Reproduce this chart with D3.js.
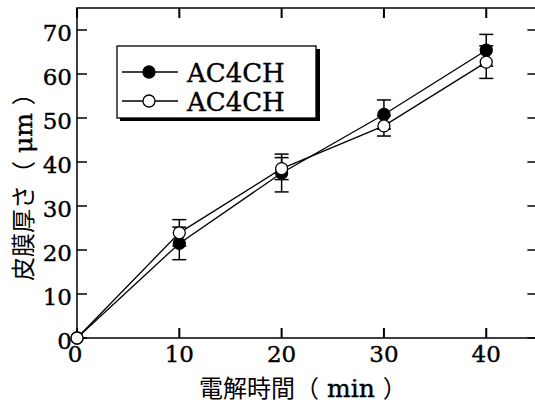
<!DOCTYPE html>
<html><head><meta charset="utf-8">
<script src="https://cdn.jsdelivr.net/npm/d3@7"></script>
<style>body{margin:0;background:#fff}svg{display:block}</style>
</head><body>
<script>
const times = [0, 10, 20, 30, 40];
const filledValues = [0, 21.5, 37.5, 50.8, 65.4];
const filledErr = [0, 3.7, 4.3, 3.3, 3.6];
const openValues = [0, 23.9, 38.5, 48.2, 62.7];
const openErr = [0, 3.0, 2.5, 2.3, 3.7];
const xTicks = [0, 10, 20, 30, 40];
const yTicks = [0, 10, 20, 30, 40, 50, 60, 70];
const legendLabels = ["AC4CH", "AC4CH"];
const xTitleParts = ["電解時間（", " min ", "）"];
const yTitleParts = ["皮膜厚さ（", " μm ", "）"];

const W = 535, H = 404;
const svg = d3.select("body").append("svg").attr("width", W).attr("height", H);
const x = d3.scaleLinear().domain([0, 45]).range([77, 537.4]);
const y = d3.scaleLinear().domain([0, 75]).range([338, 8]);
const serif = "'DejaVu Serif', serif";
const cjk = "'Noto Sans CJK JP', sans-serif";

// frame
svg.append("rect").attr("x", x(0)).attr("y", y(75)).attr("width", x(45) - x(0)).attr("height", y(0) - y(75))
  .attr("fill", "none").attr("stroke", "#000").attr("stroke-width", 1.5);

// ticks (inward) on all four sides
const tg = svg.append("g").attr("stroke", "#000").attr("stroke-width", 2);
xTicks.forEach(t => {
  tg.append("line").attr("x1", x(t)).attr("x2", x(t)).attr("y1", y(0)).attr("y2", y(0) - 10);
  tg.append("line").attr("x1", x(t)).attr("x2", x(t)).attr("y1", y(75)).attr("y2", y(75) + 10);
});
yTicks.forEach(t => {
  tg.append("line").attr("x1", x(0)).attr("x2", x(0) + 10).attr("y1", y(t)).attr("y2", y(t)).attr("stroke-width", 1.5);
  tg.append("line").attr("x1", x(45)).attr("x2", x(45) - 10).attr("y1", y(t)).attr("y2", y(t)).attr("stroke-width", 1.5);
});

// tick labels
const thicken = s => s.attr("stroke", "#000").attr("stroke-width", 0.4);
svg.append("g").selectAll("text").data(yTicks).join("text")
  .attr("x", x(0) - 5).attr("y", d => y(d) + 11).attr("text-anchor", "end")
  .attr("font-family", serif).attr("font-size", 23).call(thicken).text(d => d);
svg.append("g").selectAll("text").data(xTicks).join("text")
  .attr("x", d => x(d) - (d === 0 ? 2 : 0)).attr("y", 362).attr("text-anchor", "middle")
  .attr("font-family", serif).attr("font-size", 23).call(thicken).text(d => d);

// axis titles
function title(sel, parts) {
  sel.append("tspan").attr("font-family", cjk).attr("font-size", 24).text(parts[0]);
  sel.append("tspan").attr("font-family", serif).attr("font-size", 25).call(thicken).attr("xml:space", "preserve").text(parts[1]);
  sel.append("tspan").attr("font-family", cjk).attr("font-size", 24).text(parts[2]);
}
const xt = svg.append("text").attr("x", 199).attr("y", 397).attr("xml:space", "preserve");
title(xt, xTitleParts);
const yt = svg.append("text").attr("transform", "translate(32,281) rotate(-90)").attr("xml:space", "preserve");
title(yt, yTitleParts);

// series
const line = d3.line().x(d => x(d[0])).y(d => y(d[1]));
const series = [
  {vals: filledValues, err: filledErr, fill: "#000"},
  {vals: openValues, err: openErr, fill: "#fff"}
];
series.forEach(s => {
  svg.append("path").datum(times.map((t, i) => [t, s.vals[i]])).attr("d", line)
    .attr("fill", "none").attr("stroke", "#000").attr("stroke-width", 1.3);
});
series.forEach(s => {
  const eg = svg.append("g").attr("stroke", "#000").attr("stroke-width", 1.5);
  times.forEach((t, i) => {
    if (!s.err[i]) return;
    const cx = x(t), top = y(s.vals[i] + s.err[i]), bot = y(s.vals[i] - s.err[i]);
    eg.append("line").attr("x1", cx).attr("x2", cx).attr("y1", top).attr("y2", bot);
    eg.append("line").attr("x1", cx - 7).attr("x2", cx + 7).attr("y1", top).attr("y2", top);
    eg.append("line").attr("x1", cx - 7).attr("x2", cx + 7).attr("y1", bot).attr("y2", bot);
  });
});
series.forEach(s => {
  svg.append("g").selectAll("circle").data(times.map((t, i) => [t, s.vals[i]])).join("circle")
    .attr("cx", d => x(d[0])).attr("cy", d => y(d[1])).attr("r", 6)
    .attr("fill", s.fill).attr("stroke", "#000").attr("stroke-width", 1.3);
});

// legend
const lg = svg.append("g");
lg.append("rect").attr("x", 120).attr("y", 49).attr("width", 200).attr("height", 72).attr("fill", "#000");
lg.append("rect").attr("x", 117).attr("y", 46).attr("width", 199).attr("height", 72)
  .attr("fill", "#fff").attr("stroke", "#000").attr("stroke-width", 1.3);
[72, 101].forEach((ly, i) => {
  lg.append("line").attr("x1", 122).attr("x2", 178).attr("y1", ly).attr("y2", ly).attr("stroke", "#000").attr("stroke-width", 1.3);
  lg.append("circle").attr("cx", 149).attr("cy", ly).attr("r", 6).attr("fill", series[i].fill).attr("stroke", "#000").attr("stroke-width", 1.3);
  lg.append("text").attr("x", 187).attr("y", ly + 10).attr("font-family", serif).attr("font-size", 26).call(thicken).text(legendLabels[i]);
});
</script>
</body></html>
